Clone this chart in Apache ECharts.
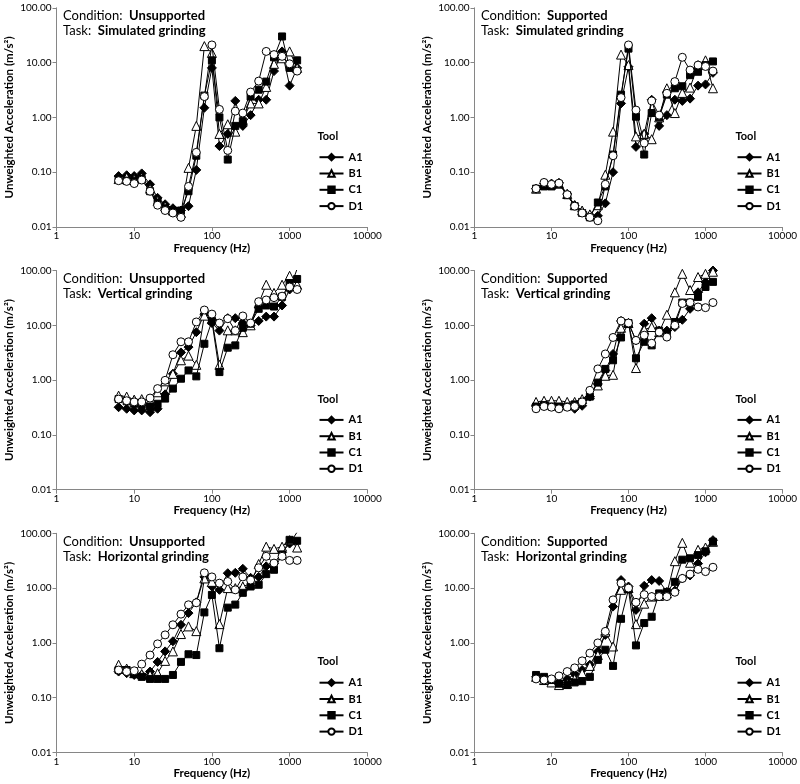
<!DOCTYPE html>
<html><head><meta charset="utf-8">
<script src="https://cdn.jsdelivr.net/npm/echarts@6/dist/echarts.min.js"></script>
<style>html,body{margin:0;padding:0;background:#fff}#c{width:800px;height:784px}</style>
</head><body><div id="c"></div>
<script>
const freqs = [6.3, 8, 10, 12.5, 16, 20, 25, 31.5, 40, 50, 63, 80, 100, 125, 160, 200, 250, 315, 400, 500, 630, 800, 1000, 1250];
const seriesNames = ['A1', 'B1', 'C1', 'D1'];
const xTickLabels = ['1', '10', '100', '1000', '10000'];
const yTickLabels = ['0.01', '0.10', '1.00', '10.00', '100.00'];

// Unsupported, Simulated grinding
const unsupSimA1 = [0.085, 0.088, 0.085, 0.095, 0.06, 0.034, 0.026, 0.022, 0.02, 0.024, 0.11, 1.5, 8, 0.3, 0.5, 2.0, 0.7, 1.1, 2.1, 2.1, 7, 16, 3.8, 8];
const unsupSimB1 = [0.075, 0.08, 0.075, 0.08, 0.05, 0.03, 0.024, 0.02, 0.018, 0.12, 0.7, 20, 15, 0.5, 0.75, 0.55, 0.9, 1.8, 1.8, 3.6, 9.5, 12, 16, 8];
const unsupSimC1 = [0.075, 0.07, 0.07, 0.075, 0.045, 0.028, 0.022, 0.02, 0.02, 0.045, 0.2, 2.5, 11, 1.0, 0.17, 0.7, 0.85, 2.4, 3.2, 4.5, 12.5, 30, 8, 11];
const unsupSimD1 = [0.07, 0.068, 0.062, 0.072, 0.045, 0.025, 0.02, 0.018, 0.015, 0.055, 0.23, 2.4, 21, 1.4, 0.25, 1.3, 1.2, 2.9, 4.6, 16, 14, 13, 9.5, 7];

// Supported, Simulated grinding
const supSimA1 = [0.05, 0.062, 0.062, 0.064, 0.04, 0.025, 0.019, 0.016, 0.016, 0.027, 0.1, 1.8, 8.4, 0.29, 0.5, 2.1, 0.7, 1.1, 2.1, 2.0, 2.2, 3.8, 4.0, 6.5];
const supSimB1 = [0.05, 0.06, 0.06, 0.062, 0.04, 0.025, 0.02, 0.017, 0.025, 0.09, 0.55, 14, 9, 0.45, 0.5, 0.4, 1.0, 3.4, 1.2, 2.8, 3.5, 9, 11, 3.4];
const supSimC1 = [0.05, 0.055, 0.055, 0.06, 0.038, 0.024, 0.018, 0.015, 0.028, 0.055, 0.21, 2.6, 18, 1.03, 0.21, 1.2, 1.0, 2.6, 3.4, 3.7, 5.9, 6.8, 9, 10.5];
const supSimD1 = [0.05, 0.065, 0.06, 0.063, 0.039, 0.024, 0.018, 0.015, 0.013, 0.06, 0.2, 2.3, 21, 1.36, 0.34, 2.0, 1.1, 2.75, 4.5, 12.5, 7.3, 9, 8.5, 7];

// Unsupported, Vertical grinding
const unsupVertA1 = [0.32, 0.30, 0.28, 0.28, 0.26, 0.30, 0.55, 1.3, 3.2, 4.0, 7.5, 16, 11, 8, 13.5, 13.5, 11, 10, 12, 14.4, 14.4, 23, 45, 107];
const unsupVertB1 = [0.52, 0.5, 0.44, 0.45, 0.42, 0.6, 0.95, 1.3, 2.3, 2.8, 1.9, 15, 13, 1.9, 8.1, 8.1, 7.5, 10, 25, 55, 39, 55, 80, 55];
const unsupVertC1 = [0.45, 0.41, 0.37, 0.35, 0.33, 0.37, 0.46, 0.70, 1.06, 1.5, 1.17, 4.6, 12, 1.4, 3.9, 4.3, 9, 10.7, 20, 23, 22, 33, 59, 70];
const unsupVertD1 = [0.45, 0.42, 0.40, 0.40, 0.47, 0.70, 0.99, 2.9, 5.0, 5.0, 11.5, 19, 16, 11, 13.2, 8, 14.8, 11, 27, 29, 32, 34, 50, 45];

// Supported, Vertical grinding
const supVertA1 = [0.35, 0.37, 0.35, 0.35, 0.33, 0.30, 0.34, 0.5, 0.85, 1.5, 3.0, 12, 11, 5.3, 10.7, 13.5, 8, 8, 9.3, 12.6, 20, 40, 62, 100];
const supVertB1 = [0.40, 0.42, 0.42, 0.42, 0.40, 0.40, 0.45, 0.55, 0.8, 1.2, 1.25, 9, 11, 1.66, 8.3, 9.3, 7.5, 15.6, 40, 87, 44, 76, 87, 95];
const supVertC1 = [0.33, 0.35, 0.33, 0.33, 0.33, 0.36, 0.40, 0.5, 0.9, 1.6, 2.3, 6, 11, 2.5, 5, 4.3, 8, 7, 11.5, 26, 26, 33, 50, 62];
const supVertD1 = [0.30, 0.33, 0.32, 0.30, 0.32, 0.33, 0.40, 0.65, 1.6, 3.0, 6.0, 12, 11, 5.3, 6.6, 4.7, 7.5, 6.1, 10, 25, 26, 21.6, 21, 26];

// Unsupported, Horizontal grinding
const unsupHorA1 = [0.30, 0.28, 0.26, 0.26, 0.30, 0.45, 0.70, 1.07, 2.14, 3.5, 5.5, 16, 10.7, 9.3, 18.7, 19, 22.5, 15.4, 16, 25, 28, 45, 65, 105];
const unsupHorB1 = [0.40, 0.34, 0.28, 0.27, 0.26, 0.28, 0.47, 0.70, 1.45, 2.0, 1.64, 15, 13, 2.2, 10, 10, 10.7, 12, 27.6, 57, 52, 57, 75, 55];
const unsupHorC1 = [0.32, 0.32, 0.27, 0.24, 0.22, 0.22, 0.22, 0.26, 0.45, 0.62, 0.6, 3.6, 7.5, 0.8, 4.4, 5, 8.2, 10.7, 11.5, 18, 21.6, 41, 76, 73];
const unsupHorD1 = [0.32, 0.3, 0.31, 0.41, 0.6, 0.96, 1.4, 2.14, 3.35, 4.96, 5.4, 19, 16, 12.3, 13.2, 9.3, 16, 14, 23.5, 38, 28.6, 38, 32, 32];

// Supported, Horizontal grinding
const supHorA1 = [0.24, 0.22, 0.20, 0.19, 0.22, 0.27, 0.32, 0.40, 0.7, 1.4, 4.6, 14, 10.7, 4, 11, 14, 13.5, 8.5, 9, 15, 17, 28, 45, 75];
const supHorB1 = [0.24, 0.21, 0.19, 0.17, 0.18, 0.22, 0.28, 0.38, 0.6, 1.6, 0.86, 9.3, 10, 2.2, 5.2, 7, 7.2, 8, 31, 67, 29, 50, 55, 70];
const supHorC1 = [0.26, 0.24, 0.21, 0.18, 0.17, 0.19, 0.20, 0.24, 0.49, 0.75, 0.38, 2.75, 9.5, 0.9, 2.3, 3.0, 8, 8.5, 13, 33, 35, 40, 47, 70];
const supHorD1 = [0.22, 0.21, 0.22, 0.25, 0.30, 0.35, 0.47, 0.65, 1.0, 1.62, 6.1, 12.3, 10, 5.5, 7.6, 7, 7, 7, 8.4, 15, 18, 22, 20, 24];

const panels = [
  {cond: 'Unsupported', task: 'Simulated grinding', data: [unsupSimA1, unsupSimB1, unsupSimC1, unsupSimD1]},
  {cond: 'Supported', task: 'Simulated grinding', data: [supSimA1, supSimB1, supSimC1, supSimD1]},
  {cond: 'Unsupported', task: 'Vertical grinding', data: [unsupVertA1, unsupVertB1, unsupVertC1, unsupVertD1]},
  {cond: 'Supported', task: 'Vertical grinding', data: [supVertA1, supVertB1, supVertC1, supVertD1]},
  {cond: 'Unsupported', task: 'Horizontal grinding', data: [unsupHorA1, unsupHorB1, unsupHorC1, unsupHorD1]},
  {cond: 'Supported', task: 'Horizontal grinding', data: [supHorA1, supHorB1, supHorC1, supHorD1]}
];

const FONT = 'Lato';
const markers = {
  A1: {symbol: 'diamond', size: 9, fill: '#000'},
  B1: {symbol: 'triangle', size: 9, fill: '#fff'},
  C1: {symbol: 'rect', size: 7, fill: '#000'},
  D1: {symbol: 'circle', size: 8, fill: '#fff'}
};

const colLeft = [56.5, 474.5];
const plotW = 310.8;
const rowTop = [7.8, 270.5, 533.3];
const plotH = 219.2;

const grid = [], xAxis = [], yAxis = [], series = [], legend = [], graphic = [];
panels.forEach((p, i) => {
  const col = i % 2, row = Math.floor(i / 2);
  const L = colLeft[col], T = rowTop[row];
  grid.push({left: L, top: T, width: plotW, height: plotH, containLabel: false});
  xAxis.push({
    type: 'log', logBase: 10, min: 1, max: 10000, gridIndex: i,
    name: 'Frequency (Hz)', nameLocation: 'middle', nameGap: 15,
    nameTextStyle: {fontFamily: FONT, fontWeight: 'bold', fontSize: 11.5, color: '#000'},
    axisLine: {lineStyle: {color: '#868686', width: 1}},
    axisTick: {show: true, length: 4, lineStyle: {color: '#868686'}},
    axisLabel: {fontFamily: FONT, fontSize: 10, color: '#000', margin: 4,
      formatter: v => xTickLabels[Math.round(Math.log10(v))]},
    splitLine: {show: false}
  });
  yAxis.push({
    type: 'log', logBase: 10, min: 0.01, max: 100, gridIndex: i,
    name: 'Unweighted Acceleration (m/s²)', nameLocation: 'middle', nameGap: 41,
    nameTextStyle: {fontFamily: FONT, fontWeight: 'bold', fontSize: 11.5, color: '#000'},
    axisLine: {show: true, lineStyle: {color: '#868686', width: 1}},
    axisTick: {show: true, length: 4, lineStyle: {color: '#868686'}},
    axisLabel: {fontFamily: FONT, fontSize: 10, color: '#000', margin: 5,
      formatter: v => yTickLabels[Math.round(Math.log10(v)) + 2]},
    splitLine: {show: false}
  });
  seriesNames.forEach((n, k) => {
    const m = markers[n];
    series.push({
      name: n, type: 'line', xAxisIndex: i, yAxisIndex: i,
      data: freqs.map((f, j) => [f, p.data[k][j]]),
      symbol: m.symbol, symbolSize: m.size, showSymbol: true,
      lineStyle: {color: '#000', width: 1},
      itemStyle: {color: m.fill, borderColor: '#000', borderWidth: 1},
      z: 2 + k, animation: false
    });
  });
  legend.push({
    orient: 'vertical', left: L + 257, top: T + 138,
    itemWidth: 24, itemHeight: 8, itemGap: 3.5,
    data: seriesNames,
    textStyle: {fontFamily: FONT, fontWeight: 'bold', fontSize: 11, color: '#000', lineHeight: 12.8},
    selectedMode: false
  });
  graphic.push({
    type: 'text', left: L + 261, top: T + 123,
    style: {text: 'Tool', fontFamily: FONT, fontWeight: 'bold', fontSize: 11, fill: '#000'}
  });
  graphic.push({
    type: 'text', left: L + 6.5, top: T + 2,
    style: {
      text: '{n|Condition:  }{b|' + p.cond + '}\n{n|Task:  }{b|' + p.task + '}',
      rich: {
        n: {fontFamily: FONT, fontSize: 13, fill: '#000', lineHeight: 15},
        b: {fontFamily: FONT, fontSize: 13, fontWeight: 'bold', fill: '#000', lineHeight: 15}
      }
    }
  });
});

const chart = echarts.init(document.getElementById('c'), null, {renderer: 'canvas'});
chart.setOption({animation: false, backgroundColor: '#fff', grid, xAxis, yAxis, series, legend, graphic});
</script></body></html>
